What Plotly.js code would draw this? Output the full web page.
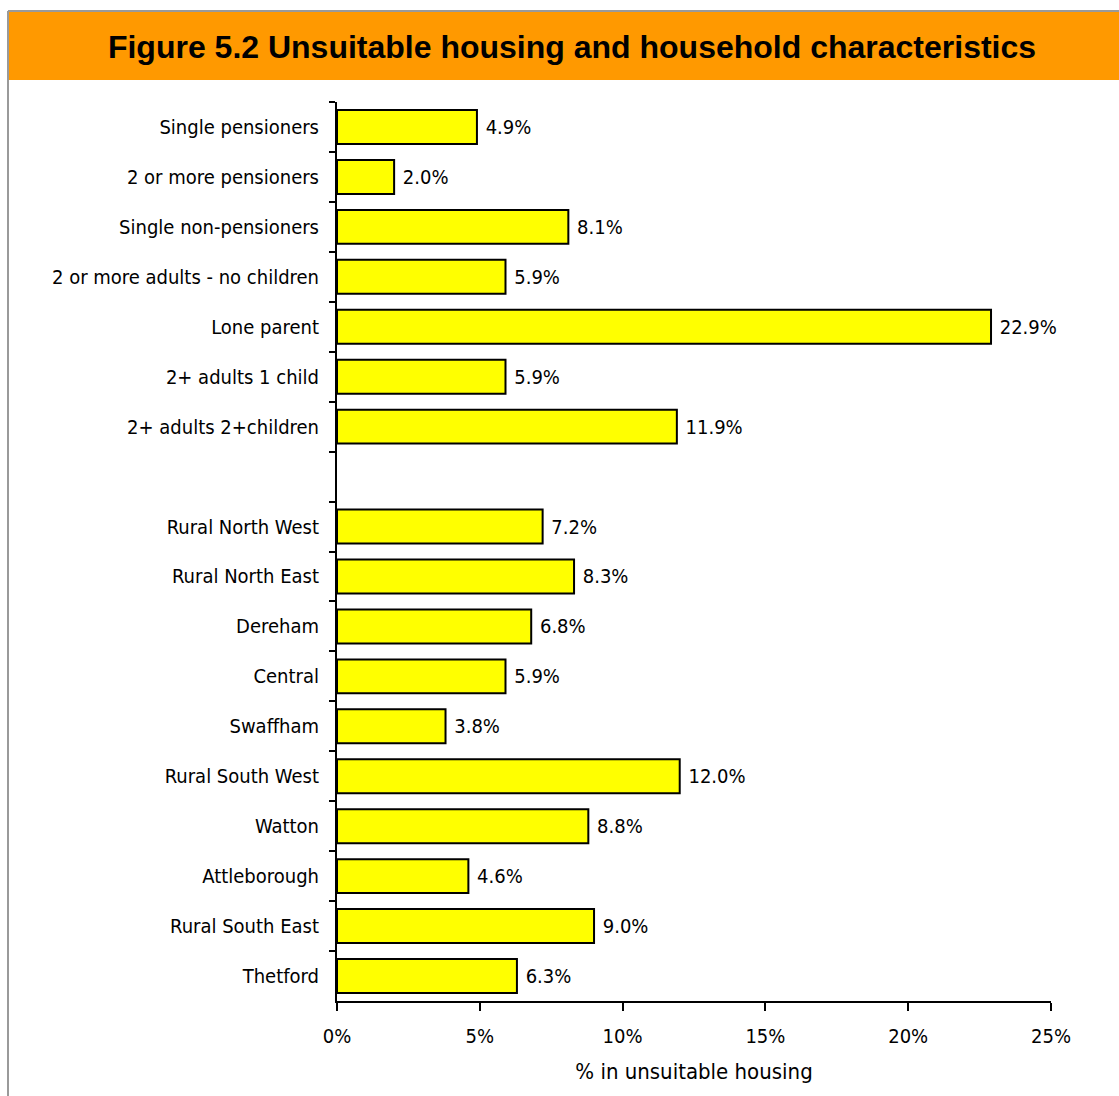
<!DOCTYPE html>
<html>
<head>
<meta charset="utf-8">
<script src="https://cdn.plot.ly/plotly-3.0.1.min.js"></script>
<style>html,body{margin:0;padding:0;background:#fff;}#chart{width:1119px;height:1096px;}</style>
</head>
<body>
<div id="chart"></div>
<script>
const householdTypes = ["Single pensioners","2 or more pensioners","Single non-pensioners","2 or more adults - no children","Lone parent","2+ adults 1 child","2+ adults 2+children"];
const householdValues = [4.9, 2.0, 8.1, 5.9, 22.9, 5.9, 11.9];
const areas = ["Rural North West","Rural North East","Dereham","Central","Swaffham","Rural South West","Watton","Attleborough","Rural South East","Thetford"];
const areaValues = [7.2, 8.3, 6.8, 5.9, 3.8, 12.0, 8.8, 4.6, 9.0, 6.3];
const spacer = " ";
const xTicks = [0, 5, 10, 15, 20, 25];
const xTickText = ["0%", "5%", "10%", "15%", "20%", "25%"];

const cats = householdTypes.concat([spacer], areas);
const vals = householdValues.concat([null], areaValues);

const FONT = '"Liberation Sans Narrow","Arial Narrow","DejaVu Sans Condensed",sans-serif';

// pixel -> paper helpers for the frame decoration
const L = 337, R = 1051, T = 102, B = 1001;
const px = p => (p - L) / (R - L);
const py = p => (B - p) / (B - T);

const trace = {
  type: 'bar',
  orientation: 'h',
  y: cats,
  x: vals,
  marker: {color: '#FFFF00', line: {color: '#000', width: 2}},
  texttemplate: '\u00a0%{x:.1f}%',
  textposition: 'outside',
  textfont: {family: FONT, size: 20, color: '#000'},
  cliponaxis: false,
  hoverinfo: 'skip'
};

const layout = {
  width: 1119, height: 1096,
  margin: {l: L, r: 1119 - R, t: T, b: 1096 - B, pad: 0},
  paper_bgcolor: '#fff', plot_bgcolor: '#fff',
  showlegend: false,
  bargap: 0.32,
  font: {family: FONT, size: 20, color: '#000'},
  title: {
    text: '<b>Figure 5.2 Unsuitable housing and household characteristics</b>',
    font: {family: '"Liberation Sans", Arial, sans-serif', size: 32, color: '#000'},
    xref: 'container', yref: 'container',
    x: 572 / 1119, xanchor: 'center',
    y: 1 - 47 / 1096, yanchor: 'middle'
  },
  xaxis: {
    range: [0, 25],
    tickmode: 'array',
    tickvals: xTicks,
    ticktext: xTickText,
    ticks: 'outside', ticklen: 8, tickwidth: 2, tickcolor: '#000',
    ticklabelstandoff: 8,
    showline: true, linecolor: '#000', linewidth: 2,
    showgrid: false, zeroline: false,
    tickfont: {family: FONT, size: 20, color: '#000'},
    title: {text: '% in unsuitable housing', font: {family: FONT, size: 22, color: '#000'}, standoff: 17},
    fixedrange: true
  },
  yaxis: {
    type: 'category',
    categoryorder: 'array', categoryarray: cats,
    range: [cats.length - 0.5, -0.5],
    tickson: 'boundaries',
    ticks: 'outside', ticklen: 6, tickwidth: 2, tickcolor: '#000',
    ticklabelstandoff: 12,
    showline: true, linecolor: '#000', linewidth: 2,
    showgrid: false, zeroline: false,
    tickfont: {family: FONT, size: 20, color: '#000'},
    fixedrange: true
  },
  shapes: [
    // orange title band
    {type: 'rect', xref: 'paper', yref: 'paper', x0: px(8), x1: px(1125), y0: py(80), y1: py(11),
     fillcolor: '#FF9900', line: {width: 0}, layer: 'below'},
    // grey frame: top and left
    {type: 'line', xref: 'paper', yref: 'paper', x0: px(8), x1: px(1125), y0: py(11), y1: py(11),
     line: {color: '#9a9a9a', width: 2}},
    {type: 'line', xref: 'paper', yref: 'paper', x0: px(8), x1: px(8), y0: py(11), y1: py(1100),
     line: {color: '#9a9a9a', width: 2}}
  ]
};

Plotly.newPlot('chart', [trace], layout, {displayModeBar: false, staticPlot: true});
</script>
</body>
</html>
